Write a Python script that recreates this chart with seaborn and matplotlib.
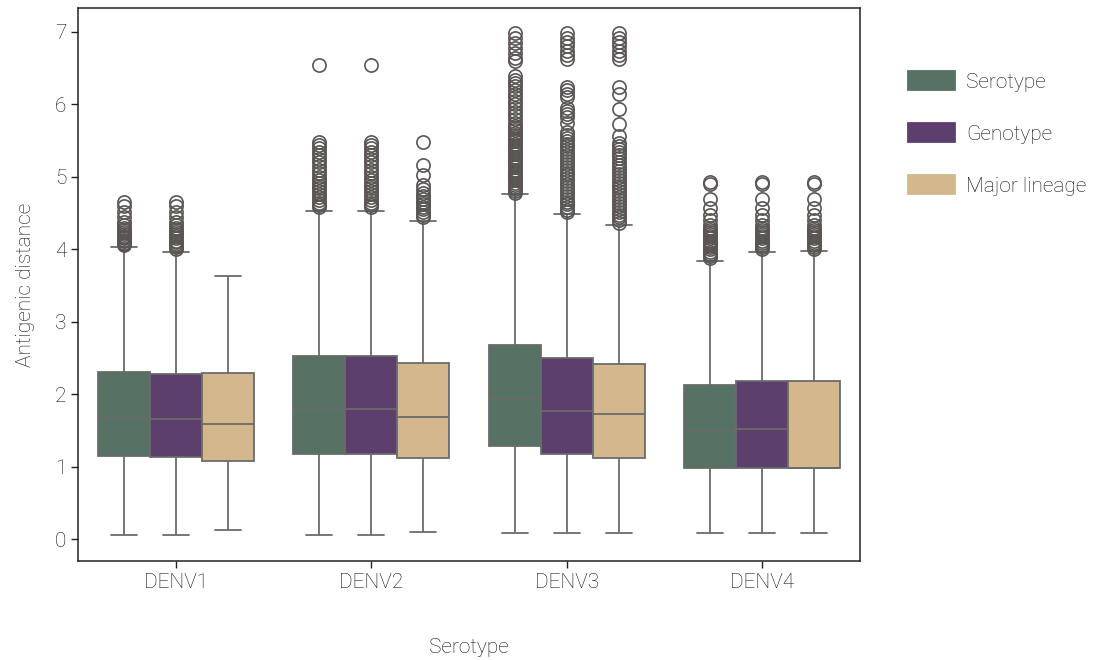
import numpy as np
import pandas as pd
import matplotlib
matplotlib.use("Agg")
import matplotlib.pyplot as plt
import seaborn as sns

# ---- data (summary statistics per box) ----
serotypes = ["DENV1", "DENV2", "DENV3", "DENV4"]
levels = ["Serotype", "Genotype", "Major lineage"]
colors = ["#557265", "#5D3F6E", "#D4B88D"]

# rows: serotypes, columns: levels
whisker_low = [[0.055, 0.055, 0.133],
               [0.060, 0.060, 0.097],
               [0.087, 0.087, 0.087],
               [0.092, 0.092, 0.092]]
q1 = [[1.149, 1.140, 1.080],
      [1.177, 1.172, 1.122],
      [1.290, 1.170, 1.122],
      [0.979, 0.979, 0.989]]
median = [[1.678, 1.655, 1.595],
          [1.798, 1.798, 1.687],
          [1.931, 1.770, 1.729],
          [1.490, 1.517, 0.989]]
q3 = [[2.303, 2.280, 2.290],
      [2.533, 2.533, 2.432],
      [2.680, 2.500, 2.414],
      [2.129, 2.179, 2.189]]
whisker_high = [[4.03, 3.97, 3.63],
                [4.53, 4.53, 4.39],
                [4.76, 4.49, 4.34],
                [3.84, 3.97, 3.98]]

out_d1_s = [4.65, 4.60, 4.52, 4.45, 4.38, 4.33, 4.30, 4.27, 4.24, 4.21, 4.19,
            4.17, 4.15, 4.13, 4.11, 4.09, 4.07, 4.06]
out_d1_g = [4.65, 4.60, 4.52, 4.45, 4.38, 4.34, 4.30, 4.27, 4.24, 4.21, 4.18,
            4.15, 4.12, 4.10, 4.08, 4.05, 4.03, 4.01]
out_d1_m = []
out_d2_s = [6.54, 5.48, 5.44, 5.40, 5.35, 5.30, 5.25, 5.20, 5.15, 5.10, 5.05,
            5.00, 4.96, 4.92, 4.88, 4.84, 4.80, 4.76, 4.72, 4.68, 4.64, 4.61, 4.58]
out_d2_g = [6.54, 5.48, 5.44, 5.40, 5.35, 5.30, 5.25, 5.20, 5.15, 5.10, 5.05,
            5.00, 4.96, 4.92, 4.88, 4.84, 4.80, 4.76, 4.72, 4.68, 4.64, 4.61, 4.59]
out_d2_m = [5.48, 5.16, 5.02, 4.89, 4.83, 4.78, 4.74, 4.70, 4.66, 4.62, 4.58,
            4.55, 4.51, 4.47, 4.45]
out_d3_s = [6.98, 6.92, 6.85, 6.78, 6.71, 6.64, 6.60, 6.39, 6.34, 6.30, 6.25,
            6.20, 6.15, 6.10, 6.05, 6.00, 5.95, 5.90, 5.85, 5.80, 5.75, 5.70,
            5.67, 5.64, 5.61, 5.58, 5.55, 5.52, 5.49, 5.46, 5.43, 5.40, 5.37,
            5.34, 5.31, 5.28, 5.25, 5.22, 5.19, 5.16, 5.13, 5.10, 5.07, 5.04,
            5.01, 4.98, 4.95, 4.92, 4.89, 4.86, 4.83, 4.80, 4.78]
out_d3_g = [6.98, 6.92, 6.86, 6.80, 6.74, 6.68, 6.62, 6.24, 6.20, 6.15, 6.10,
            5.95, 5.91, 5.87, 5.83, 5.74, 5.62, 5.58, 5.54, 5.50, 5.46, 5.42,
            5.38, 5.34, 5.30, 5.26, 5.22, 5.18, 5.14, 5.10, 5.06, 5.02, 4.98,
            4.94, 4.90, 4.86, 4.82, 4.78, 4.74, 4.70, 4.66, 4.62, 4.58, 4.54, 4.52]
out_d3_m = [6.98, 6.92, 6.86, 6.80, 6.74, 6.68, 6.62, 6.24, 6.14, 5.93, 5.73,
            5.56, 5.47, 5.42, 5.38, 5.34, 5.30, 5.26, 5.20, 5.16, 5.12, 5.08,
            5.04, 5.00, 4.96, 4.92, 4.88, 4.84, 4.80, 4.76, 4.72, 4.68, 4.64,
            4.60, 4.56, 4.52, 4.48, 4.44, 4.40, 4.37]
out_d4_s = [4.93, 4.90, 4.69, 4.57, 4.48, 4.41, 4.33, 4.30, 4.27, 4.24, 4.21,
            4.18, 4.15, 4.12, 4.09, 4.06, 4.03, 4.00, 3.97, 3.94, 3.91, 3.88]
out_d4_g = [4.93, 4.90, 4.69, 4.57, 4.48, 4.41, 4.33, 4.30, 4.27, 4.24, 4.21,
            4.18, 4.15, 4.12, 4.09, 4.06, 4.03, 4.00]
out_d4_m = [4.93, 4.90, 4.69, 4.57, 4.48, 4.41, 4.33, 4.30, 4.27, 4.24, 4.21,
            4.18, 4.15, 4.12, 4.09, 4.06, 4.03, 4.00]
outliers = [[out_d1_s, out_d1_g, out_d1_m],
            [out_d2_s, out_d2_g, out_d2_m],
            [out_d3_s, out_d3_g, out_d3_m],
            [out_d4_s, out_d4_g, out_d4_m]]

# ---- rebuild samples whose box statistics equal the values above ----
REP = 200
rows = []
for i, sero in enumerate(serotypes):
    for j, lev in enumerate(levels):
        vals = ([whisker_low[i][j]] + [q1[i][j]] * REP + [median[i][j]] * REP
                + [q3[i][j]] * REP + [whisker_high[i][j]] + list(outliers[i][j]))
        for v in vals:
            rows.append((sero, lev, v))
df = pd.DataFrame(rows, columns=["Serotype", "Level", "Antigenic distance"])

# ---- plot ----
sns.set_theme(style="ticks")
plt.rcParams["font.family"] = ["Roboto", "DejaVu Sans"]
plt.rcParams["font.weight"] = "light"
plt.rcParams["axes.labelweight"] = "light"
txt = "#111111"
FS = 15

fig = plt.figure(figsize=(10.96, 6.60), dpi=100)
ax = fig.add_axes([78 / 1096, 1 - 561 / 660, (860 - 78) / 1096, (561 - 8) / 660])

line_c = "#6b6b6b"
sns.boxplot(data=df, x="Serotype", y="Antigenic distance", hue="Level",
            order=serotypes, hue_order=levels, palette=colors, saturation=1,
            width=0.8, gap=0, linecolor=line_c, linewidth=1.3,
            flierprops=dict(marker="o", markersize=9.5, markerfacecolor="none",
                            markeredgecolor="#5a5555", markeredgewidth=1.2),
            ax=ax)

ax.set_xlim(-0.5, 3.5)
ax.set_ylim(-0.30, 7.33)
ax.set_yticks(range(0, 8))
for s in ax.spines.values():
    s.set_visible(True)
    s.set_color("#222222")
    s.set_linewidth(1.1)
ax.tick_params(axis="both", length=5, width=1, color="#222222",
               labelsize=FS, labelcolor=txt)
ax.set_xlabel("Serotype", fontsize=FS, color=txt, labelpad=33, fontweight="light")
ax.set_ylabel("Antigenic distance", fontsize=FS, color=txt, labelpad=14, fontweight="light")

handles, labels = ax.get_legend_handles_labels()
if ax.get_legend() is not None:
    ax.get_legend().remove()
for h, c in zip(handles, colors):
    try:
        h.set_edgecolor(c)
        h.set_facecolor(c)
    except Exception:
        pass
leg = fig.legend(handles, labels, loc="upper left",
                 bbox_to_anchor=(908 / 1096, 1 - 71 / 660),
                 bbox_transform=fig.transFigure, frameon=False,
                 fontsize=FS, handlelength=2.25, handleheight=1.05,
                 labelspacing=1.5, handletextpad=0.55, borderpad=0,
                 borderaxespad=0)
for t in leg.get_texts():
    t.set_color(txt)

fig.savefig("out.png", dpi=100)
